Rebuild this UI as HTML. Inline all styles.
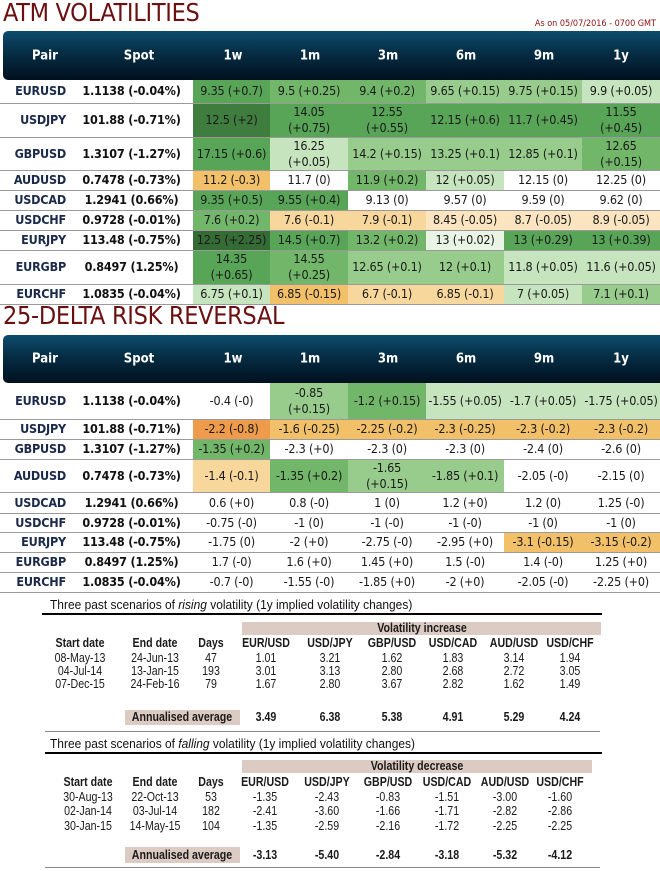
<!DOCTYPE html>
<html><head><meta charset="utf-8"><style>
*{margin:0;padding:0;box-sizing:border-box}
body{width:660px;height:871px;background:#fff;position:relative;overflow:hidden;font-family:"DejaVu Sans Condensed","Liberation Sans",sans-serif;color:#1a1a1a}
.title{position:absolute;left:3px;font-size:25px;color:#6b1010;font-family:"DejaVu Sans Condensed","Liberation Sans",sans-serif;letter-spacing:-0.3px}
.ason{position:absolute;right:4px;top:19px;font-size:9px;color:#8b1010}
.hdr{position:absolute;left:3px;width:657px;border-radius:5px 0 0 5px;background:linear-gradient(#0d4d6d 0%,#063048 40%,#01101e 100%);color:#fff;font-weight:bold;font-size:13px}
.hdr span{position:absolute;top:50%;transform:translate(-50%,-50%)}
table.m{position:absolute;left:0;width:660px;border-collapse:collapse;table-layout:fixed;font-size:12.5px;letter-spacing:-0.2px}
table.m td{border-bottom:1px solid #9a9a9a;text-align:center;line-height:16px;padding:0;white-space:nowrap}
table.m td.w{white-space:normal}
table.m td:first-child{color:#1b2a4a;font-weight:bold;text-align:right;padding-right:4px}
table.m td:nth-child(2){font-weight:bold;color:#111}
.g1{background:#3f7d3f}.g2{background:#58a558}.g3{background:#72b769}.g4{background:#98cc8c}.g5{background:#c6e4bd}.g6{background:#e9f4e5}.gd{background:#356b35}
.o1{background:#ee9c4c}.o2{background:#f3c06a}.o3{background:#f7d79c}.o4{background:#fae5c0}
.s{position:absolute;font-family:"Liberation Sans",sans-serif;font-size:13px;color:#111;transform:scaleX(.92);transform-origin:left top;white-space:nowrap}
.band{position:absolute;background:#dccbc2}
.c{position:absolute;font-family:"Liberation Sans",sans-serif;font-size:12.5px;transform:translateX(-50%) scaleX(.85);white-space:nowrap;line-height:14px}
.b{font-weight:bold}
</style></head><body>
<div class="title" style="top:-2px">ATM VOLATILITIES</div>
<div class="ason">As on 05/07/2016 - 0700 GMT</div>
<div class="hdr" style="top:31px;height:49px"><span style="left:42px">Pair</span><span style="left:136px">Spot</span><span style="left:230px">1w</span><span style="left:307px">1m</span><span style="left:385px">3m</span><span style="left:463px">6m</span><span style="left:541px">9m</span><span style="left:618px">1y</span></div>
<table class="m" style="top:80px">
<colgroup><col style="width:70px"><col style="width:123px"><col style="width:77px"><col style="width:78px"><col style="width:78px"><col style="width:78px"><col style="width:78px"><col style="width:78px"></colgroup>
<tr style="height:23px"><td>EURUSD</td><td>1.1138 (-0.04%)</td><td class="g2">9.35 (+0.7)</td><td class="g3">9.5 (+0.25)</td><td class="g3">9.4 (+0.2)</td><td class="g4">9.65 (+0.15)</td><td class="g4">9.75 (+0.15)</td><td class="g5">9.9 (+0.05)</td></tr>
<tr style="height:34px"><td>USDJPY</td><td>101.88 (-0.71%)</td><td class="g1">12.5 (+2)</td><td class="g2 w">14.05<br>(+0.75)</td><td class="g2 w">12.55<br>(+0.55)</td><td class="g2">12.15 (+0.6)</td><td class="g2">11.7 (+0.45)</td><td class="g2 w">11.55<br>(+0.45)</td></tr>
<tr style="height:32px"><td>GBPUSD</td><td>1.3107 (-1.27%)</td><td class="g2">17.15 (+0.6)</td><td class="g5 w">16.25<br>(+0.05)</td><td class="g4">14.2 (+0.15)</td><td class="g4">13.25 (+0.1)</td><td class="g4">12.85 (+0.1)</td><td class="g3 w">12.65<br>(+0.15)</td></tr>
<tr style="height:20px"><td>AUDUSD</td><td>0.7478 (-0.73%)</td><td class="o2">11.2 (-0.3)</td><td>11.7 (0)</td><td class="g3">11.9 (+0.2)</td><td class="g5">12 (+0.05)</td><td>12.15 (0)</td><td>12.25 (0)</td></tr>
<tr style="height:20px"><td>USDCAD</td><td>1.2941 (0.66%)</td><td class="g2">9.35 (+0.5)</td><td class="g2">9.55 (+0.4)</td><td>9.13 (0)</td><td>9.57 (0)</td><td>9.59 (0)</td><td>9.62 (0)</td></tr>
<tr style="height:20px"><td>USDCHF</td><td>0.9728 (-0.01%)</td><td class="g3">7.6 (+0.2)</td><td class="o3">7.6 (-0.1)</td><td class="o3">7.9 (-0.1)</td><td class="o4">8.45 (-0.05)</td><td class="o4">8.7 (-0.05)</td><td class="o4">8.9 (-0.05)</td></tr>
<tr style="height:20px"><td>EURJPY</td><td>113.48 (-0.75%)</td><td class="gd">12.5 (+2.25)</td><td class="g2">14.5 (+0.7)</td><td class="g3">13.2 (+0.2)</td><td class="g6">13 (+0.02)</td><td class="g2">13 (+0.29)</td><td class="g2">13 (+0.39)</td></tr>
<tr style="height:34px"><td>EURGBP</td><td>0.8497 (1.25%)</td><td class="g2 w">14.35<br>(+0.65)</td><td class="g3 w">14.55<br>(+0.25)</td><td class="g4">12.65 (+0.1)</td><td class="g4">12 (+0.1)</td><td class="g5">11.8 (+0.05)</td><td class="g5">11.6 (+0.05)</td></tr>
<tr style="height:20px"><td>EURCHF</td><td>1.0835 (-0.04%)</td><td class="g5">6.75 (+0.1)</td><td class="o2">6.85 (-0.15)</td><td class="o3">6.7 (-0.1)</td><td class="o3">6.85 (-0.1)</td><td class="g5">7 (+0.05)</td><td class="g4">7.1 (+0.1)</td></tr>
</table>
<div class="title" style="top:301px">25-DELTA RISK REVERSAL</div>
<div class="hdr" style="top:335px;height:48px"><span style="left:42px">Pair</span><span style="left:136px">Spot</span><span style="left:230px">1w</span><span style="left:307px">1m</span><span style="left:385px">3m</span><span style="left:463px">6m</span><span style="left:541px">9m</span><span style="left:618px">1y</span></div>
<table class="m" style="top:383px">
<colgroup><col style="width:70px"><col style="width:123px"><col style="width:77px"><col style="width:78px"><col style="width:78px"><col style="width:78px"><col style="width:78px"><col style="width:78px"></colgroup>
<tr style="height:36px"><td>EURUSD</td><td>1.1138 (-0.04%)</td><td>-0.4 (-0)</td><td class="g4 w">-0.85<br>(+0.15)</td><td class="g3">-1.2 (+0.15)</td><td class="g5">-1.55 (+0.05)</td><td class="g5">-1.7 (+0.05)</td><td class="g5">-1.75 (+0.05)</td></tr>
<tr style="height:20px"><td>USDJPY</td><td>101.88 (-0.71%)</td><td class="o1">-2.2 (-0.8)</td><td class="o2">-1.6 (-0.25)</td><td class="o2">-2.25 (-0.2)</td><td class="o2">-2.3 (-0.25)</td><td class="o2">-2.3 (-0.2)</td><td class="o2">-2.3 (-0.2)</td></tr>
<tr style="height:20px"><td>GBPUSD</td><td>1.3107 (-1.27%)</td><td class="g3">-1.35 (+0.2)</td><td>-2.3 (+0)</td><td>-2.3 (0)</td><td>-2.3 (0)</td><td>-2.4 (0)</td><td>-2.6 (0)</td></tr>
<tr style="height:33px"><td>AUDUSD</td><td>0.7478 (-0.73%)</td><td class="o3">-1.4 (-0.1)</td><td class="g3">-1.35 (+0.2)</td><td class="g4 w">-1.65<br>(+0.15)</td><td class="g4">-1.85 (+0.1)</td><td>-2.05 (-0)</td><td>-2.15 (0)</td></tr>
<tr style="height:21px"><td>USDCAD</td><td>1.2941 (0.66%)</td><td>0.6 (+0)</td><td>0.8 (-0)</td><td>1 (0)</td><td>1.2 (+0)</td><td>1.2 (0)</td><td>1.25 (-0)</td></tr>
<tr style="height:19px"><td>USDCHF</td><td>0.9728 (-0.01%)</td><td>-0.75 (-0)</td><td>-1 (0)</td><td>-1 (-0)</td><td>-1 (-0)</td><td>-1 (0)</td><td>-1 (0)</td></tr>
<tr style="height:20px"><td>EURJPY</td><td>113.48 (-0.75%)</td><td>-1.75 (0)</td><td>-2 (+0)</td><td>-2.75 (-0)</td><td>-2.95 (+0)</td><td class="o2">-3.1 (-0.15)</td><td class="o2">-3.15 (-0.2)</td></tr>
<tr style="height:20px"><td>EURGBP</td><td>0.8497 (1.25%)</td><td>1.7 (-0)</td><td>1.6 (+0)</td><td>1.45 (+0)</td><td>1.5 (-0)</td><td>1.4 (-0)</td><td>1.25 (+0)</td></tr>
<tr style="height:20px"><td>EURCHF</td><td>1.0835 (-0.04%)</td><td>-0.7 (-0)</td><td>-1.55 (-0)</td><td>-1.85 (+0)</td><td>-2 (+0)</td><td>-2.05 (-0)</td><td>-2.25 (+0)</td></tr>
</table>

<!-- block 1 -->
<div class="s" style="left:50px;top:597px">Three past scenarios of <i>rising</i> volatility (1y implied volatility changes)</div>
<div style="position:absolute;left:42px;top:613px;width:560px;height:2px;background:#000"></div>
<div class="band" style="left:242px;top:622px;width:359px;height:13px"></div>
<div class="c b" style="left:422px;top:621px">Volatility increase</div>
<div class="band" style="left:125px;top:710px;width:115px;height:15px"></div>
<div class="c b" style="left:80px;top:636px">Start date</div><div class="c b" style="left:155px;top:636px">End date</div><div class="c b" style="left:211px;top:636px">Days</div><div class="c b" style="left:266px;top:636px">EUR/USD</div><div class="c b" style="left:330px;top:636px">USD/JPY</div><div class="c b" style="left:392px;top:636px">GBP/USD</div><div class="c b" style="left:453px;top:636px">USD/CAD</div><div class="c b" style="left:514px;top:636px">AUD/USD</div><div class="c b" style="left:570px;top:636px">USD/CHF</div>
<div class="c" style="left:80px;top:651px">08-May-13</div><div class="c" style="left:155px;top:651px">24-Jun-13</div><div class="c" style="left:211px;top:651px">47</div><div class="c" style="left:266px;top:651px">1.01</div><div class="c" style="left:330px;top:651px">3.21</div><div class="c" style="left:392px;top:651px">1.62</div><div class="c" style="left:453px;top:651px">1.83</div><div class="c" style="left:514px;top:651px">3.14</div><div class="c" style="left:570px;top:651px">1.94</div>
<div class="c" style="left:80px;top:664px">04-Jul-14</div><div class="c" style="left:155px;top:664px">13-Jan-15</div><div class="c" style="left:211px;top:664px">193</div><div class="c" style="left:266px;top:664px">3.01</div><div class="c" style="left:330px;top:664px">3.13</div><div class="c" style="left:392px;top:664px">2.80</div><div class="c" style="left:453px;top:664px">2.68</div><div class="c" style="left:514px;top:664px">2.72</div><div class="c" style="left:570px;top:664px">3.05</div>
<div class="c" style="left:80px;top:677px">07-Dec-15</div><div class="c" style="left:155px;top:677px">24-Feb-16</div><div class="c" style="left:211px;top:677px">79</div><div class="c" style="left:266px;top:677px">1.67</div><div class="c" style="left:330px;top:677px">2.80</div><div class="c" style="left:392px;top:677px">3.67</div><div class="c" style="left:453px;top:677px">2.82</div><div class="c" style="left:514px;top:677px">1.62</div><div class="c" style="left:570px;top:677px">1.49</div>
<div class="c b" style="left:182px;top:710px">Annualised average</div><div class="c b" style="left:266px;top:710px">3.49</div><div class="c b" style="left:330px;top:710px">6.38</div><div class="c b" style="left:392px;top:710px">5.38</div><div class="c b" style="left:453px;top:710px">4.91</div><div class="c b" style="left:514px;top:710px">5.29</div><div class="c b" style="left:570px;top:710px">4.24</div>

<!-- block 2 -->
<div style="position:absolute;left:45px;top:731px;width:555px;height:1px;background:#888"></div>
<div class="s" style="left:50px;top:736px">Three past scenarios of <i>falling</i> volatility (1y implied volatility changes)</div>
<div style="position:absolute;left:45px;top:752px;width:557px;height:2px;background:#000"></div>
<div class="band" style="left:242px;top:760px;width:350px;height:13px"></div>
<div class="c b" style="left:417px;top:759px">Volatility decrease</div>
<div class="band" style="left:125px;top:847px;width:115px;height:16px"></div>
<div class="c b" style="left:88px;top:775px">Start date</div><div class="c b" style="left:155px;top:775px">End date</div><div class="c b" style="left:211px;top:775px">Days</div><div class="c b" style="left:265px;top:775px">EUR/USD</div><div class="c b" style="left:327px;top:775px">USD/JPY</div><div class="c b" style="left:388px;top:775px">GBP/USD</div><div class="c b" style="left:447px;top:775px">USD/CAD</div><div class="c b" style="left:505px;top:775px">AUD/USD</div><div class="c b" style="left:560px;top:775px">USD/CHF</div>
<div class="c" style="left:88px;top:790px">30-Aug-13</div><div class="c" style="left:155px;top:790px">22-Oct-13</div><div class="c" style="left:211px;top:790px">53</div><div class="c" style="left:265px;top:790px">-1.35</div><div class="c" style="left:327px;top:790px">-2.43</div><div class="c" style="left:388px;top:790px">-0.83</div><div class="c" style="left:447px;top:790px">-1.51</div><div class="c" style="left:505px;top:790px">-3.00</div><div class="c" style="left:560px;top:790px">-1.60</div>
<div class="c" style="left:88px;top:804px">02-Jan-14</div><div class="c" style="left:155px;top:804px">03-Jul-14</div><div class="c" style="left:211px;top:804px">182</div><div class="c" style="left:265px;top:804px">-2.41</div><div class="c" style="left:327px;top:804px">-3.60</div><div class="c" style="left:388px;top:804px">-1.66</div><div class="c" style="left:447px;top:804px">-1.71</div><div class="c" style="left:505px;top:804px">-2.82</div><div class="c" style="left:560px;top:804px">-2.86</div>
<div class="c" style="left:88px;top:819px">30-Jan-15</div><div class="c" style="left:155px;top:819px">14-May-15</div><div class="c" style="left:211px;top:819px">104</div><div class="c" style="left:265px;top:819px">-1.35</div><div class="c" style="left:327px;top:819px">-2.59</div><div class="c" style="left:388px;top:819px">-2.16</div><div class="c" style="left:447px;top:819px">-1.72</div><div class="c" style="left:505px;top:819px">-2.25</div><div class="c" style="left:560px;top:819px">-2.25</div>
<div class="c b" style="left:182px;top:848px">Annualised average</div><div class="c b" style="left:265px;top:848px">-3.13</div><div class="c b" style="left:327px;top:848px">-5.40</div><div class="c b" style="left:388px;top:848px">-2.84</div><div class="c b" style="left:447px;top:848px">-3.18</div><div class="c b" style="left:505px;top:848px">-5.32</div><div class="c b" style="left:560px;top:848px">-4.12</div>
<div style="position:absolute;left:45px;top:867px;width:555px;height:1px;background:#888"></div>
</body></html>
